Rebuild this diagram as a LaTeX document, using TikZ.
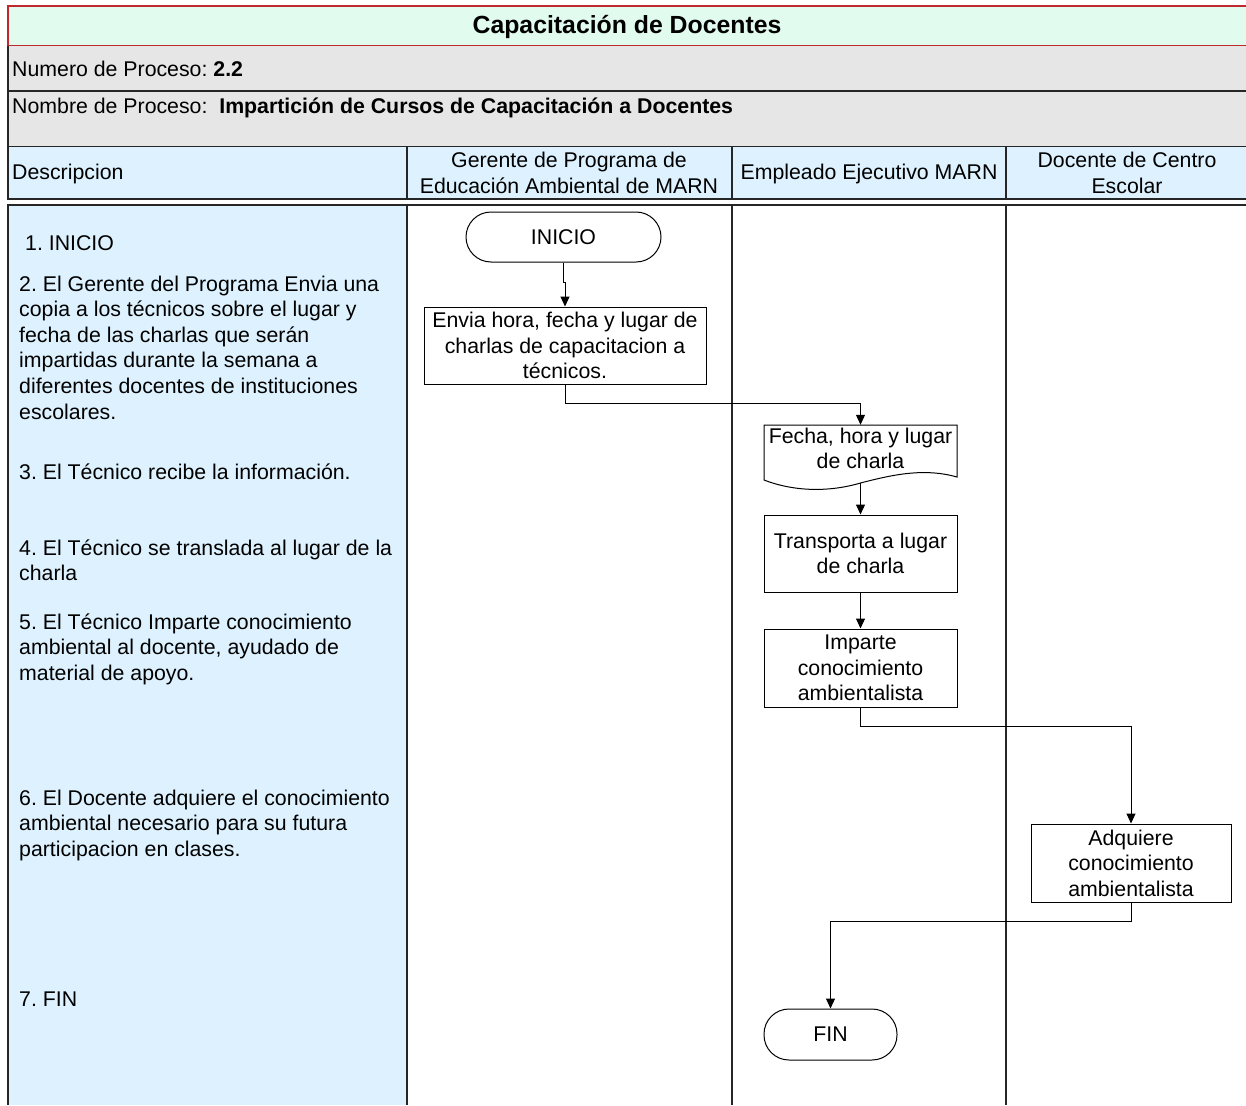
\documentclass[tikz,border=0pt]{standalone}
\usepackage{fontspec}
\setmainfont{Liberation Sans}
\frenchspacing
\usetikzlibrary{arrows.meta}
\definecolor{titlefill}{HTML}{E1FCEF}
\definecolor{titleline}{HTML}{C0282D}
\definecolor{infofill}{HTML}{E6E6E6}
\definecolor{lanefill}{HTML}{DDF2FE}
\begin{document}
\begin{tikzpicture}[x=1pt,y=-1pt,
  txt/.style={font=\fontsize{21.3}{25.6}\selectfont, inner sep=0pt},
  desc/.style={txt, anchor=north west, align=left},
  lbl/.style={txt, align=center, text height=15.3pt, text depth=4.5pt},
  stepbox/.style={txt, draw, line width=1pt, align=center, minimum width=193pt, minimum height=77pt},
  terminal/.style={txt, draw, line width=1pt, rounded corners=25pt, minimum height=50pt},
  lane/.style={line width=1.5pt, draw=black!85},
  flow/.style={line width=1pt, -{Triangle[length=10pt,width=9pt]}}]
\useasboundingbox (0,0) rectangle (1246,1105);

% title band
\fill[titlefill] (8,6) rectangle (1246,46);
\draw[titleline, line width=1.5pt] (1246,6) -- (8,6) -- (8,46) -- (1246,46);
\node[txt, font=\fontsize{24.8}{28}\selectfont\bfseries] (title) at (627,27) {Capacitación de Docentes};

% process information rows
\fill[infofill] (8,46) rectangle (1246,147);
\draw[lane] (8,46) -- (8,147);
\draw[lane] (8,91) -- (1246,91);
\draw[lane] (8,147) -- (1246,147);
\node[lbl, anchor=west] (numero) at (12,71) {Numero de Proceso: \textbf{2.2}};
\node[lbl, anchor=west] (nombre) at (12,108) {Nombre de Proceso:\ \ \textbf{Impartición de Cursos de Capacitación a Docentes}};

% swimlane headers
\fill[lanefill] (8,147) rectangle (1246,199);
\draw[lane] (8,147) -- (8,199) -- (1246,199);
\foreach \x in {407,732,1006} \draw[lane] (\x,147) -- (\x,199);
\node[lbl, anchor=west] (hdesc) at (12,174) {Descripcion};
\node[txt, align=center] (hgerente) at (569,173) {Gerente de Programa de\\Educación Ambiental de MARN};
\node[lbl] (hempleado) at (869,174) {Empleado Ejecutivo MARN};
\node[txt, align=center] (hdocente) at (1127,173) {Docente de Centro\\Escolar};

% swimlane bodies
\fill[lanefill] (8,205) rectangle (407,1105);
\draw[lane] (8,1105) -- (8,205) -- (1246,205);
\foreach \x in {407,732,1006} \draw[lane] (\x,205) -- (\x,1105);

% step descriptions
\node[desc] (d1) at (25,232) {\strut 1. INICIO};
\node[desc] (d2) at (19,273) {\strut 2. El Gerente del Programa Envia una\\copia a los técnicos sobre el lugar y\\fecha de las charlas que serán\\impartidas durante la semana a\\diferentes docentes de instituciones\\escolares.};
\node[desc] (d3) at (19,461) {\strut 3. El Técnico recibe la información.};
\node[desc] (d4) at (19,537) {\strut 4. El Técnico se translada al lugar de la\\charla};
\node[desc] (d5) at (19,611) {\strut 5. El Técnico Imparte conocimiento\\ambiental al docente, ayudado de\\material de apoyo.};
\node[desc] (d6) at (19,787) {\strut 6. El Docente adquiere el conocimiento\\ambiental necesario para su futura\\participacion en clases.};
\node[desc] (d7) at (19,988) {\strut 7. FIN};

% flow chart
\node[terminal, minimum width=195pt] (inicio) at (563.5,237) {INICIO};
\node[stepbox, minimum width=282pt] (envia) at (565,345.5) {Envia hora, fecha y lugar de\\charlas de capacitacion a\\técnicos.};
\node[txt, align=center, minimum width=193pt, minimum height=47pt] (doc) at (860.5,448.5) {Fecha, hora y lugar\\de charla};
\draw[line width=1pt] (764,425) -- (957,425) -- (957,477)
  .. controls (925,468) and (895,474) .. (860.5,483)
  .. controls (830,492) and (795,492) .. (764,480) -- cycle;
\coordinate (docb) at (860.5,483);
\node[stepbox] (transporta) at (860.5,553.5) {Transporta a lugar\\de charla};
\node[stepbox, minimum height=78pt] (imparte) at (860.5,668) {Imparte\\conocimiento\\ambientalista};
\node[stepbox, minimum width=200pt, minimum height=78pt] (adquiere) at (1131,863) {Adquiere\\conocimiento\\ambientalista};
\node[terminal, minimum width=133pt, minimum height=51pt] (fin) at (830.5,1034.5) {FIN};

\draw[flow] (inicio.south) -- ++(0,20) -| (envia.north);
\draw[flow] (envia.south) -- ++(0,19) -| (doc.north);
\draw[flow] (docb) -- (transporta.north);
\draw[flow] (transporta.south) -- (imparte.north);
\draw[flow] (imparte.south) -- ++(0,19) -| (adquiere.north);
\draw[flow] (adquiere.south) -- ++(0,19) -| (fin.north);
\end{tikzpicture}
\end{document}
